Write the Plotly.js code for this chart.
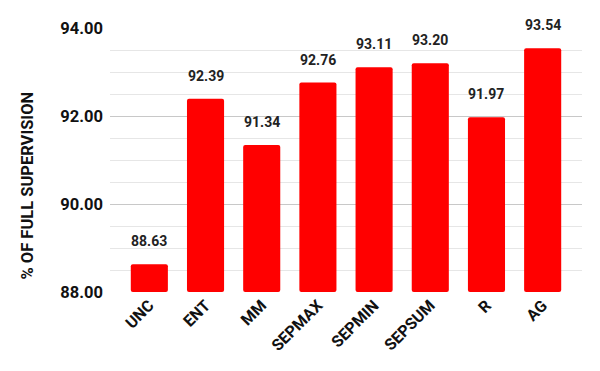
<!DOCTYPE html>
<html><head><meta charset="utf-8">
<script src="https://cdn.plot.ly/plotly-3.0.1.min.js"></script>
<style>html,body{margin:0;padding:0;background:#fff}</style>
</head><body><div id="chart" style="width:600px;height:371px"></div>
<script>
const categories = ["UNC","ENT","MM","SEPMAX","SEPMIN","SEPSUM","R","AG"];
const values = [88.63, 92.39, 91.34, 92.76, 93.11, 93.20, 91.97, 93.54];
const yTicks = [88, 90, 92, 94];
const yTitle = "% OF FULL SUPERVISION";
const baseline = 88;

const font = "Roboto, 'Liberation Sans', Arial, sans-serif";
const annotations = categories.map((c, i) => ({
  x: c, y: values[i], text: "<b>" + values[i].toFixed(2) + "</b>",
  showarrow: false, yanchor: "bottom", yshift: 13,
  font: {family: font, size: 14, color: "#222"}
}));
annotations.push({
  xref: "paper", yref: "paper", x: -0.174, y: 0.403,
  xanchor: "center", yanchor: "middle", textangle: -90, showarrow: false,
  text: "<b>" + yTitle + "</b>", font: {family: font, size: 16.5, color: "#111"}
});

Plotly.newPlot("chart", [{
  type: "bar", x: categories, y: values.map(v => v - baseline), base: baseline,
  marker: {color: "#ff0000", cornerradius: 2},
  width: 0.66, hoverinfo: "none"
}], {
  width: 600, height: 371,
  margin: {l: 110, r: 18, t: 28, b: 79},
  paper_bgcolor: "#fff", plot_bgcolor: "#fff",
  showlegend: false,
  xaxis: {
    type: "category", range: [-0.7, 7.7], tickangle: -45,
    showgrid: false, ticks: "", showline: false, zeroline: false,
    tickfont: {family: font, size: 16, color: "#111", weight: "bold"}
  },
  yaxis: {
    range: [88, 94], tickvals: yTicks, ticktext: yTicks.map(v => "<b>" + v.toFixed(2) + "</b>"),
    gridcolor: "#c8c8c8", zeroline: false, showline: false, ticks: "",
    minor: {dtick: 0.5, tick0: 88, showgrid: true, gridcolor: "#e6e6e6", ticks: ""},
    tickfont: {family: font, size: 16.5, color: "#111"},
    ticklabelstandoff: 6
  },
  annotations: annotations
}, {displayModeBar: false, staticPlot: true});
</script></body></html>
